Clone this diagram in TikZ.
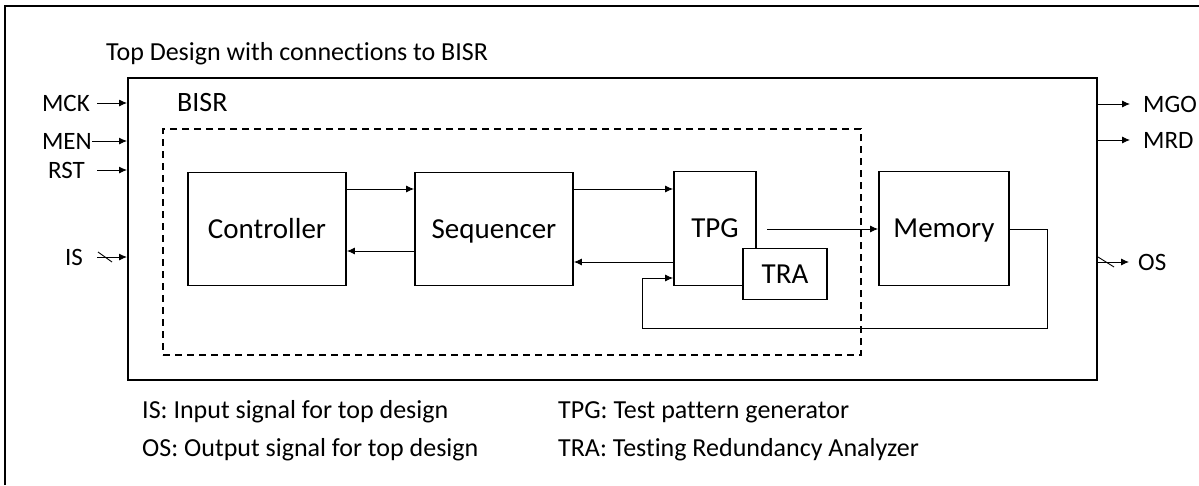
\documentclass[tikz,border=0pt]{standalone}
\usepackage{fontspec}
\setmainfont[Ligatures=NoCommon]{Carlito}
\usetikzlibrary{arrows.meta,calc}

\begin{document}
\begin{tikzpicture}[x=1pt,y=1pt,yscale=-1,
  every node/.style={font=\fontsize{26}{31}\selectfont},
  blk/.style={draw,line width=1.8pt,fill=white,inner sep=0pt,
    font=\fontsize{29}{34}\selectfont,text height=18.5pt,text depth=0pt},
  conn/.style={line width=0.9pt,-{Latex[length=8pt,width=7pt]}},
  wire/.style={line width=0.9pt},
  lbl/.style={inner sep=0pt},
  pin/.style={inner sep=0pt,font=\fontsize{25}{30}\selectfont}]
\useasboundingbox (0,0) rectangle (1199,485);
\draw[line width=2pt] (5,485) -- (5,6) -- (1199,6);

\node[draw,line width=2pt,minimum width=969pt,minimum height=302pt,inner sep=0pt] (top) at (612.5,229) {};
\node[draw,line width=2pt,dash pattern=on 7pt off 5pt,minimum width=698pt,minimum height=226pt,inner sep=0pt] (bisr) at (512,242) {};

\node[lbl,anchor=west] (title) at (106,54) {Top Design with connections to BISR};
\node[lbl,anchor=west,font=\fontsize{28}{33}\selectfont] (bisrlbl) at (177,103) {BISR};

\node[blk,minimum width=158pt,minimum height=113pt] (controller) at (267,229) {Controller};
\node[blk,minimum width=158pt,minimum height=113pt] (sequencer) at (494,229) {Sequencer};
\node[blk,minimum width=82pt,minimum height=114pt] (tpg) at (715,228.5) {TPG};
\node[blk,minimum width=84pt,minimum height=51pt] (tra) at (785,274) {TRA};
\node[blk,minimum width=130pt,minimum height=114pt] (memory) at (944,228.5) {Memory};

\coordinate (fwd) at (0,189);
\coordinate (back) at (0,251);
\coordinate (tpgback) at (0,262);
\coordinate (fbrow) at (0,278);
\coordinate (tpgout) at (767,229);
\coordinate (fbr) at (1047,328);
\coordinate (fbl) at (642,328);

\draw[conn] (controller.east |- fwd) -- (sequencer.west |- fwd);
\draw[conn] (sequencer.west |- back) -- (controller.east |- back);
\draw[conn] (sequencer.east |- fwd) -- (tpg.west |- fwd);
\draw[conn] (tpg.west |- tpgback) -- (sequencer.east |- tpgback);
\draw[conn] (tpgout) -- (memory.west |- tpgout);
\draw[conn] (memory.east |- tpgout) -| (fbr) -- (fbl) |- (tpg.west |- fbrow);

\node[pin,anchor=east,inner xsep=7pt] (mck) at (97,103) {MCK};
\node[pin,anchor=east,inner xsep=0pt] (men) at (92,141) {MEN};
\node[pin,anchor=east,inner xsep=12pt] (rst) at (97,170) {RST};
\node[pin,anchor=east,inner xsep=14pt] (is) at (97,257) {IS};
\draw[conn] (mck.east) -- (top.west |- mck);
\draw[conn] (men.east) -- (top.west |- men);
\draw[conn] (rst.east) -- (top.west |- rst);
\draw[conn] (is.east) -- (top.west |- is);
\coordinate (isbus) at (105,257);
\draw[wire] ($(isbus)+(-7,-5)$) -- ++(14,10);

\node[pin,anchor=west,inner xsep=13pt] (mgo) at (1130,104) {MGO};
\node[pin,anchor=west,inner xsep=13pt] (mrd) at (1130,140) {MRD};
\node[pin,anchor=west,inner xsep=9pt] (os) at (1129,262) {OS};
\draw[conn] (top.east |- mgo) -- (mgo.west);
\draw[conn] (top.east |- mrd) -- (mrd.west);
\draw[conn] (top.east |- os) -- (os.west);
\coordinate (osbus) at (1106,262);
\draw[wire] ($(osbus)+(-8,-5)$) -- ++(16,10);

\node[lbl,anchor=west] (isnote) at (142,412) {IS: Input signal for top design};
\node[lbl,anchor=west] (osnote) at (142,450) {OS: Output signal for top design};
\node[lbl,anchor=west] (tpgnote) at (558,412) {TPG: Test pattern generator};
\node[lbl,anchor=west] (tranote) at (558,450) {TRA: Testing Redundancy Analyzer};
\end{tikzpicture}
\end{document}
